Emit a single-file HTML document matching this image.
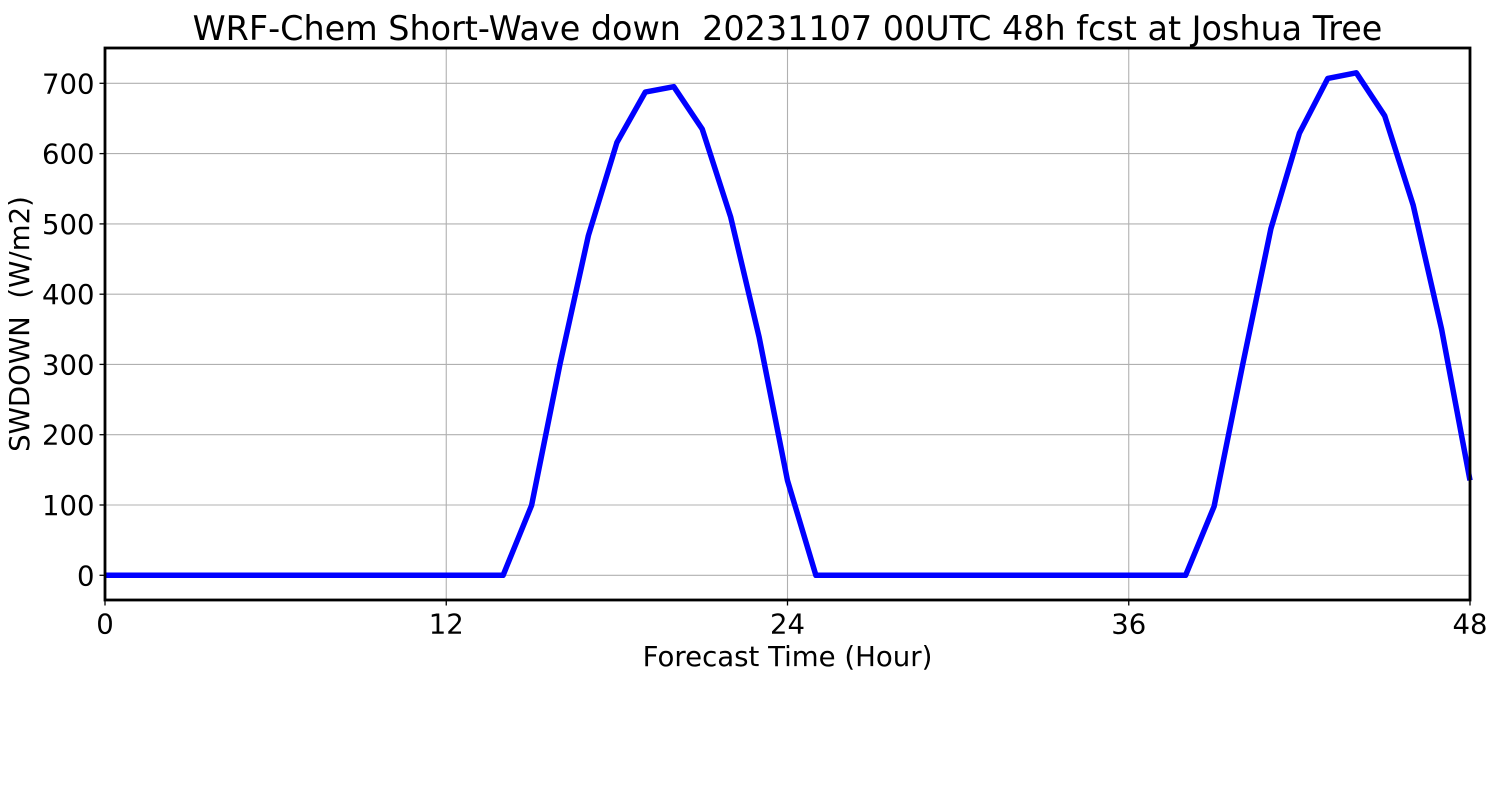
<!DOCTYPE html>
<html>
<head>
<meta charset="utf-8">
<style>
  html, body { margin: 0; padding: 0; background: #ffffff; }
  svg { display: block; }
  text { font-family: "DejaVu Sans", "Liberation Sans", sans-serif; fill: #000; }
</style>
</head>
<body>
<svg width="1500" height="800" viewBox="0 0 1500 800" xmlns="http://www.w3.org/2000/svg">
  <rect x="0" y="0" width="1500" height="800" fill="#ffffff"/>

  <!-- grid -->
  <g stroke="#b0b0b0" stroke-width="1.1" fill="none">
    <line x1="105" y1="575.3" x2="1470" y2="575.3"/>
    <line x1="105" y1="505.0" x2="1470" y2="505.0"/>
    <line x1="105" y1="434.7" x2="1470" y2="434.7"/>
    <line x1="105" y1="364.4" x2="1470" y2="364.4"/>
    <line x1="105" y1="294.2" x2="1470" y2="294.2"/>
    <line x1="105" y1="223.9" x2="1470" y2="223.9"/>
    <line x1="105" y1="153.6" x2="1470" y2="153.6"/>
    <line x1="105" y1="83.3" x2="1470" y2="83.3"/>
    <line x1="446.25" y1="48" x2="446.25" y2="600"/>
    <line x1="787.5" y1="48" x2="787.5" y2="600"/>
    <line x1="1128.75" y1="48" x2="1128.75" y2="600"/>
  </g>

  <!-- data line -->
  <polyline fill="none" stroke="#0000ff" stroke-width="5.5" stroke-linejoin="round"
    points="105,575.3 503.1,575.3 531.6,505.3 560.0,364.0 588.4,235.5 616.9,142.5 645.3,92.1 673.8,86.7 702.2,129.0 730.6,216.8 759.1,337.0 787.5,480.6 815.9,575.3 1185.6,575.3 1214.1,506.4 1242.5,365.5 1270.9,228.7 1299.4,133.2 1327.8,78.4 1356.3,72.8 1384.7,115.8 1413.1,204.9 1441.6,329.3 1470,480.4"/>

  <!-- axes box -->
  <rect x="105" y="48" width="1365" height="552" fill="none" stroke="#000" stroke-width="2.8"/>

  <!-- ticks -->
  <g stroke="#000" stroke-width="1.3">
    <line x1="105" y1="600" x2="105" y2="605.5"/>
    <line x1="446.25" y1="600" x2="446.25" y2="605.5"/>
    <line x1="787.5" y1="600" x2="787.5" y2="605.5"/>
    <line x1="1128.75" y1="600" x2="1128.75" y2="605.5"/>
    <line x1="1470" y1="600" x2="1470" y2="605.5"/>

    <line x1="99.5" y1="575.3" x2="105" y2="575.3"/>
    <line x1="99.5" y1="505.0" x2="105" y2="505.0"/>
    <line x1="99.5" y1="434.7" x2="105" y2="434.7"/>
    <line x1="99.5" y1="364.4" x2="105" y2="364.4"/>
    <line x1="99.5" y1="294.2" x2="105" y2="294.2"/>
    <line x1="99.5" y1="223.9" x2="105" y2="223.9"/>
    <line x1="99.5" y1="153.6" x2="105" y2="153.6"/>
    <line x1="99.5" y1="83.3" x2="105" y2="83.3"/>
  </g>

  <!-- x tick labels -->
  <g font-size="27.5" text-anchor="middle">
    <text x="105" y="633.5">0</text>
    <text x="446.25" y="633.5">12</text>
    <text x="787.5" y="633.5">24</text>
    <text x="1128.75" y="633.5">36</text>
    <text x="1470" y="633.5">48</text>
  </g>

  <!-- y tick labels -->
  <g font-size="27.5" text-anchor="end">
    <text x="94.5" y="585.3">0</text>
    <text x="94.5" y="515.0">100</text>
    <text x="94.5" y="444.7">200</text>
    <text x="94.5" y="374.4">300</text>
    <text x="94.5" y="304.2">400</text>
    <text x="94.5" y="233.9">500</text>
    <text x="94.5" y="163.6">600</text>
    <text x="94.5" y="93.3">700</text>
  </g>

  <!-- axis labels -->
  <text x="787.5" y="666" font-size="27.6" text-anchor="middle">Forecast Time (Hour)</text>
  <text x="0" y="0" font-size="27.6" text-anchor="middle" transform="translate(29,324) rotate(-90)" xml:space="preserve">SWDOWN  (W/m2)</text>

  <!-- title -->
  <text x="787.5" y="40" font-size="33.4" text-anchor="middle" xml:space="preserve">WRF-Chem Short-Wave down  20231107 00UTC 48h fcst at Joshua Tree</text>
</svg>
</body>
</html>
